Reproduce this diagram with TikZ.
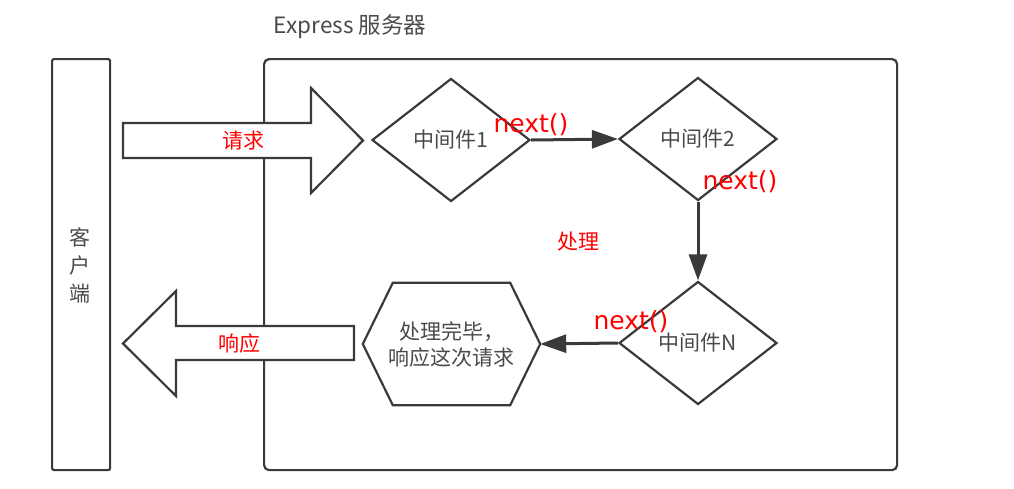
\documentclass[tikz,border=0pt]{standalone}
\usepackage{fontspec}
\setmainfont{Noto Sans CJK SC}
\newfontfamily\nextfont{DejaVu Sans}
\usetikzlibrary{shapes.geometric,arrows.meta}
\definecolor{lineC}{HTML}{3A3A3A}
\definecolor{txtC}{HTML}{4A4A4A}
\definecolor{redC}{HTML}{FF0000}
\tikzset{
  shapeline/.style={draw=lineC, line width=2.2pt},
  midbox/.style={diamond, shapeline, fill=white, inner sep=0pt, minimum width=158pt, minimum height=123pt, text=txtC, font=\fontsize{21pt}{26pt}\selectfont},
  plain/.style={text=txtC, font=\fontsize{21pt}{26pt}\selectfont, inner sep=0pt},
  redlbl/.style={text=redC, font=\fontsize{21pt}{26pt}\selectfont, inner sep=0pt},
  nextlbl/.style={text=redC, font=\nextfont\fontsize{25pt}{30pt}\selectfont, inner sep=0pt},
  conn/.style={draw=lineC, line width=3pt, -{Triangle[length=26pt,width=18pt]}},
}
\begin{document}
\begin{tikzpicture}[x=1pt,y=-1pt]
\useasboundingbox (0,0) rectangle (1014,488);
% title
\node[plain, font=\fontsize{22.5pt}{27pt}\selectfont] (title) at (350,27) {Express 服务器};
% client box
\node[shapeline, rounded corners=2pt, minimum width=58pt, minimum height=411pt, inner sep=0pt, anchor=north west] (client) at (51,58) {};
\node[plain, align=center] (clienttxt) at (80,265) {客\\[2pt]户\\[2pt]端};
% server box
\node[shapeline, rounded corners=5pt, minimum width=633pt, minimum height=411pt, inner sep=0pt, anchor=north west] (server) at (263,58) {};
% request big arrow
\draw[shapeline, fill=white] (123,123) -- (311,123) -- (311,88) -- (363,140.5) -- (311,193) -- (311,158) -- (123,158) -- cycle;
\node[redlbl] (req) at (243,141) {请求};
% response big arrow
\draw[shapeline, fill=white] (354,326) -- (176,326) -- (176,291) -- (123,343.5) -- (176,396) -- (176,360) -- (354,360) -- cycle;
\node[redlbl] (resp) at (239,344) {响应};
% middleware
\node[midbox] (m1) at (451,140) {中间件1};
\node[midbox] (m2) at (698,139) {中间件2};
\node[midbox] (mn) at (698,343) {中间件N};
% hexagon
\node[plain, minimum width=177pt, minimum height=122pt, align=center] (hex) at (451.5,344) {处理完毕，\\响应这次请求};
\draw[shapeline] (hex.west) -- ([xshift=30pt]hex.north west) -- ([xshift=-30pt]hex.north east) -- (hex.east) -- ([xshift=-30pt]hex.south east) -- ([xshift=30pt]hex.south west) -- cycle;
% connectors
\draw[conn] (m1.east) -- (m2.west);
\draw[conn] (m2.south) -- (mn.north);
\draw[conn] (mn.west) -- (hex.east);
% labels
\node[nextlbl] (n1) at (531,125) {next()};
\node[nextlbl] (n2) at (740,182) {next()};
\node[nextlbl] (n3) at (631,322) {next()};
\node[redlbl] (proc) at (578,242) {处理};
\end{tikzpicture}
\end{document}
